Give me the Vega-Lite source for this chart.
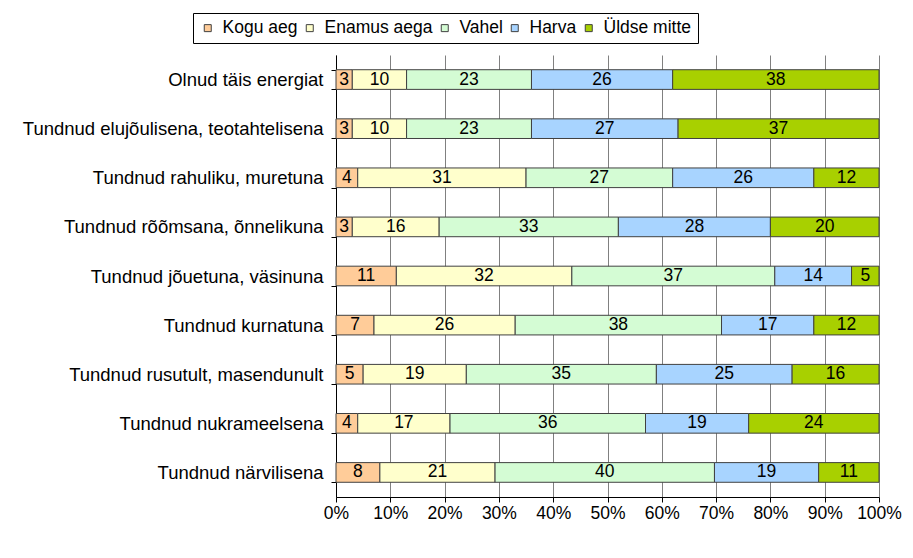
{
  "$schema": "https://vega.github.io/schema/vega-lite/v6.json",
  "width": 543,
  "height": 442,
  "autosize": "none",
  "padding": {"left": 336, "top": 55, "right": 34, "bottom": 61},
  "background": "white",
  "config": {"view": {"stroke": null}, "font": "Liberation Sans"},
  "data": {"values": [
    {"item": "Olnud täis energiat", "cat": "Kogu aeg", "k": 1, "value": 3},
    {"item": "Olnud täis energiat", "cat": "Enamus aega", "k": 2, "value": 10},
    {"item": "Olnud täis energiat", "cat": "Vahel", "k": 3, "value": 23},
    {"item": "Olnud täis energiat", "cat": "Harva", "k": 4, "value": 26},
    {"item": "Olnud täis energiat", "cat": "Üldse mitte", "k": 5, "value": 38},
    {"item": "Tundnud elujõulisena, teotahtelisena", "cat": "Kogu aeg", "k": 1, "value": 3},
    {"item": "Tundnud elujõulisena, teotahtelisena", "cat": "Enamus aega", "k": 2, "value": 10},
    {"item": "Tundnud elujõulisena, teotahtelisena", "cat": "Vahel", "k": 3, "value": 23},
    {"item": "Tundnud elujõulisena, teotahtelisena", "cat": "Harva", "k": 4, "value": 27},
    {"item": "Tundnud elujõulisena, teotahtelisena", "cat": "Üldse mitte", "k": 5, "value": 37},
    {"item": "Tundnud rahuliku, muretuna", "cat": "Kogu aeg", "k": 1, "value": 4},
    {"item": "Tundnud rahuliku, muretuna", "cat": "Enamus aega", "k": 2, "value": 31},
    {"item": "Tundnud rahuliku, muretuna", "cat": "Vahel", "k": 3, "value": 27},
    {"item": "Tundnud rahuliku, muretuna", "cat": "Harva", "k": 4, "value": 26},
    {"item": "Tundnud rahuliku, muretuna", "cat": "Üldse mitte", "k": 5, "value": 12},
    {"item": "Tundnud rõõmsana, õnnelikuna", "cat": "Kogu aeg", "k": 1, "value": 3},
    {"item": "Tundnud rõõmsana, õnnelikuna", "cat": "Enamus aega", "k": 2, "value": 16},
    {"item": "Tundnud rõõmsana, õnnelikuna", "cat": "Vahel", "k": 3, "value": 33},
    {"item": "Tundnud rõõmsana, õnnelikuna", "cat": "Harva", "k": 4, "value": 28},
    {"item": "Tundnud rõõmsana, õnnelikuna", "cat": "Üldse mitte", "k": 5, "value": 20},
    {"item": "Tundnud jõuetuna, väsinuna", "cat": "Kogu aeg", "k": 1, "value": 11},
    {"item": "Tundnud jõuetuna, väsinuna", "cat": "Enamus aega", "k": 2, "value": 32},
    {"item": "Tundnud jõuetuna, väsinuna", "cat": "Vahel", "k": 3, "value": 37},
    {"item": "Tundnud jõuetuna, väsinuna", "cat": "Harva", "k": 4, "value": 14},
    {"item": "Tundnud jõuetuna, väsinuna", "cat": "Üldse mitte", "k": 5, "value": 5},
    {"item": "Tundnud kurnatuna", "cat": "Kogu aeg", "k": 1, "value": 7},
    {"item": "Tundnud kurnatuna", "cat": "Enamus aega", "k": 2, "value": 26},
    {"item": "Tundnud kurnatuna", "cat": "Vahel", "k": 3, "value": 38},
    {"item": "Tundnud kurnatuna", "cat": "Harva", "k": 4, "value": 17},
    {"item": "Tundnud kurnatuna", "cat": "Üldse mitte", "k": 5, "value": 12},
    {"item": "Tundnud rusutult, masendunult", "cat": "Kogu aeg", "k": 1, "value": 5},
    {"item": "Tundnud rusutult, masendunult", "cat": "Enamus aega", "k": 2, "value": 19},
    {"item": "Tundnud rusutult, masendunult", "cat": "Vahel", "k": 3, "value": 35},
    {"item": "Tundnud rusutult, masendunult", "cat": "Harva", "k": 4, "value": 25},
    {"item": "Tundnud rusutult, masendunult", "cat": "Üldse mitte", "k": 5, "value": 16},
    {"item": "Tundnud nukrameelsena", "cat": "Kogu aeg", "k": 1, "value": 4},
    {"item": "Tundnud nukrameelsena", "cat": "Enamus aega", "k": 2, "value": 17},
    {"item": "Tundnud nukrameelsena", "cat": "Vahel", "k": 3, "value": 36},
    {"item": "Tundnud nukrameelsena", "cat": "Harva", "k": 4, "value": 19},
    {"item": "Tundnud nukrameelsena", "cat": "Üldse mitte", "k": 5, "value": 24},
    {"item": "Tundnud närvilisena", "cat": "Kogu aeg", "k": 1, "value": 8},
    {"item": "Tundnud närvilisena", "cat": "Enamus aega", "k": 2, "value": 21},
    {"item": "Tundnud närvilisena", "cat": "Vahel", "k": 3, "value": 40},
    {"item": "Tundnud närvilisena", "cat": "Harva", "k": 4, "value": 19},
    {"item": "Tundnud närvilisena", "cat": "Üldse mitte", "k": 5, "value": 11}
  ]},
  "encoding": {
    "y": {
      "field": "item", "type": "nominal", "sort": null,
      "scale": {"paddingInner": 0.6, "paddingOuter": 0.3},
      "axis": {
        "title": null, "labelFontSize": 18.5, "labelColor": "black", "labelPadding": 8,
        "labelLimit": 400, "tickBand": "extent", "tickSize": 5, "tickColor": "black",
        "domainColor": "black", "grid": false
      }
    }
  },
  "layer": [
    {
      "mark": {"type": "bar", "stroke": "#404040", "strokeWidth": 1},
      "encoding": {
        "x": {
          "field": "value", "type": "quantitative", "stack": "normalize",
          "axis": {
            "title": null, "values": [0, 0.1, 0.2, 0.3, 0.4, 0.5, 0.6, 0.7, 0.8, 0.9, 1],
            "format": ".0%", "labelFontSize": 17.5, "labelColor": "black", "labelPadding": 2,
            "tickSize": 5, "tickColor": "black", "domainColor": "black",
            "grid": true, "gridColor": "#808080", "gridOpacity": 1, "labelFlush": false
          }
        },
        "order": {"field": "k", "type": "quantitative"},
        "color": {
          "field": "cat", "type": "nominal",
          "sort": ["Kogu aeg", "Enamus aega", "Vahel", "Harva", "Üldse mitte"],
          "scale": {
            "domain": ["Kogu aeg", "Enamus aega", "Vahel", "Harva", "Üldse mitte"],
            "range": ["#FFCC99", "#FFFFCC", "#D4FCD4", "#A8D4FF", "#A8D000"]
          },
          "legend": {
            "title": null, "orient": "none", "legendX": -143, "legendY": -42,
            "direction": "horizontal", "strokeColor": "black", "fillColor": "white",
            "padding": 6, "symbolType": "square", "symbolSize": 49,
            "symbolStrokeColor": "#404040", "symbolStrokeWidth": 1,
            "labelFontSize": 17.5, "labelColor": "black", "labelOffset": 6, "columnPadding": 3
          }
        }
      }
    },
    {
      "mark": {"type": "text", "fontSize": 17.5, "color": "black", "baseline": "middle"},
      "encoding": {
        "x": {"field": "value", "type": "quantitative", "stack": "normalize", "bandPosition": 0.5},
        "order": {"field": "k", "type": "quantitative"},
        "detail": {"field": "cat", "type": "nominal"},
        "text": {"field": "value", "type": "quantitative"}
      }
    }
  ]
}
